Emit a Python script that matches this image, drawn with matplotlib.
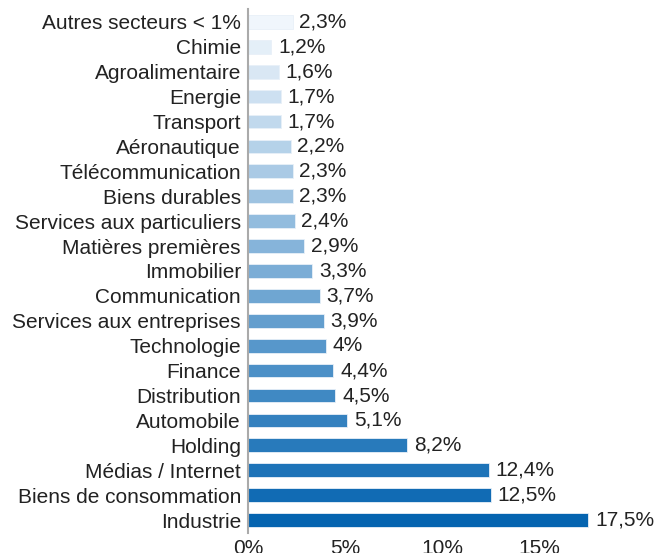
import matplotlib
matplotlib.use("Agg")
import matplotlib.pyplot as plt
from matplotlib.ticker import FuncFormatter
import numpy as np

plt.rcParams['font.family'] = ['Liberation Sans', 'DejaVu Sans']

secteurs = ["Autres secteurs < 1%", "Chimie", "Agroalimentaire", "Energie", "Transport",
            "Aéronautique", "Télécommunication", "Biens durables", "Services aux particuliers",
            "Matières premières", "Immobilier", "Communication", "Services aux entreprises",
            "Technologie", "Finance", "Distribution", "Automobile", "Holding",
            "Médias / Internet", "Biens de consommation", "Industrie"]
parts = [2.3, 1.2, 1.6, 1.7, 1.7, 2.2, 2.3, 2.3, 2.4, 2.9, 3.3, 3.7, 3.9, 4.0, 4.4, 4.5,
         5.1, 8.2, 12.4, 12.5, 17.5]
etiquettes = ["2,3%", "1,2%", "1,6%", "1,7%", "1,7%", "2,2%", "2,3%", "2,3%", "2,4%", "2,9%",
              "3,3%", "3,7%", "3,9%", "4%", "4,4%", "4,5%", "5,1%", "8,2%", "12,4%", "12,5%",
              "17,5%"]
ticks = [0, 5, 10, 15]

fig = plt.figure(figsize=(6.61, 5.53), dpi=100)
ax = fig.add_axes([0.375, 0.037, 0.6, 0.946])

n = len(secteurs)
y = np.arange(n)[::-1]
light = np.array([240, 246, 252]) / 255
dark = np.array([5, 100, 176]) / 255
colors = [tuple(light + (dark - light) * i / (n - 1)) for i in range(n)]

fs = 15
ax.barh(y, parts, height=0.55, color=colors, edgecolor="#e8f0f8", linewidth=0.6)
for yi, v, lab in zip(y, parts, etiquettes):
    ax.text(v + 0.35, yi, lab, va="center", ha="left", fontsize=fs, color="#222222")

ax.set_yticks(y)
ax.set_yticklabels(secteurs, fontsize=fs, color="#222222")
ax.set_xticks(ticks)
ax.xaxis.set_major_formatter(FuncFormatter(lambda v, p: f"{v:.0f}%"))
ax.tick_params(axis="x", labelsize=fs, length=0, pad=5, labelcolor="#222222")
ax.tick_params(axis="y", length=0, pad=5)
ax.set_xlim(0, 20.4)
ax.set_ylim(-0.5, n - 0.5)
for s in ["top", "right", "bottom"]:
    ax.spines[s].set_visible(False)
ax.spines["left"].set_color("#aaaaaa")
ax.spines["left"].set_linewidth(1.5)

fig.savefig("out.png", dpi=100)
